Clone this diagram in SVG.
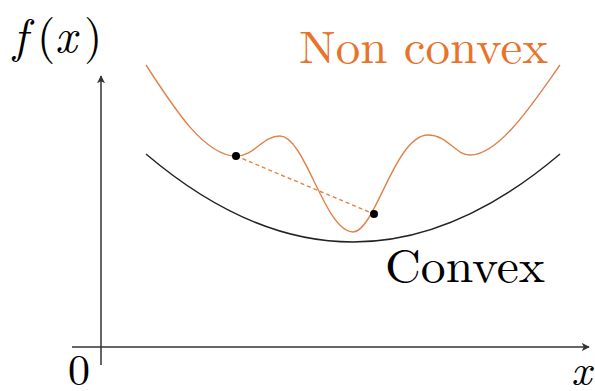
<svg xmlns="http://www.w3.org/2000/svg" width="595" height="391" viewBox="0 0 595 391">
<style>
.axis{stroke:#333;stroke-width:1.5;fill:none}
.lbl{font-family:"Latin Modern Roman","Liberation Serif",serif;font-size:46px;fill:#000}
.sm{font-size:44px}
.it{font-style:italic}
.orange{fill:#e8732a}
.nc{stroke:#e0834a;stroke-width:1.4;fill:none}
.cv{stroke:#222;stroke-width:1.4;fill:none}
</style>
<defs>
<marker id="arr" viewBox="0 0 10 10" refX="9" refY="5" markerWidth="8" markerHeight="8" markerUnits="userSpaceOnUse" orient="auto">
<path d="M0,0 L10,5 L0,10 L2.5,5 Z" fill="#333"/>
</marker>
</defs>
<g id="connectors">
<line id="x-axis" class="axis" x1="72" y1="347" x2="589" y2="347" marker-end="url(#arr)"/>
<line id="y-axis" class="axis" x1="101" y1="365" x2="101" y2="76" marker-end="url(#arr)"/>
<line id="chord" x1="236" y1="156" x2="374" y2="214" stroke="#e0834a" stroke-width="1.4" stroke-dasharray="4,3"/>
</g>
<g id="convex-curve">
<path class="cv" d="M146,154 Q353,330 560,154"/>
</g>
<g id="nonconvex-curve">
<path class="nc" d="M146,65 C175,110 205,156 236,156 C255,156 262,136 280,136 C305,136 325,232 353,232 C375,232 395,135 428,135 C448,135 455,155 470,155 C500,155 535,100 560,65"/>
</g>
<g id="points">
<circle cx="236" cy="156" r="4"/>
<circle cx="374" cy="214" r="4"/>
</g>
<g id="labels">
<text class="lbl" y="52" style="font-size:47px"><tspan class="it" x="13">f</tspan><tspan x="37">(</tspan><tspan class="it" x="55">x</tspan><tspan x="84">)</tspan></text>
<text class="lbl orange" x="299" y="63" textLength="249" lengthAdjust="spacingAndGlyphs">Non convex</text>
<text class="lbl" x="385" y="282" textLength="160" lengthAdjust="spacingAndGlyphs">Convex</text>
<text class="lbl sm" x="68" y="385">0</text>
<text class="lbl sm it" x="571" y="385">x</text>
</g>
</svg>
